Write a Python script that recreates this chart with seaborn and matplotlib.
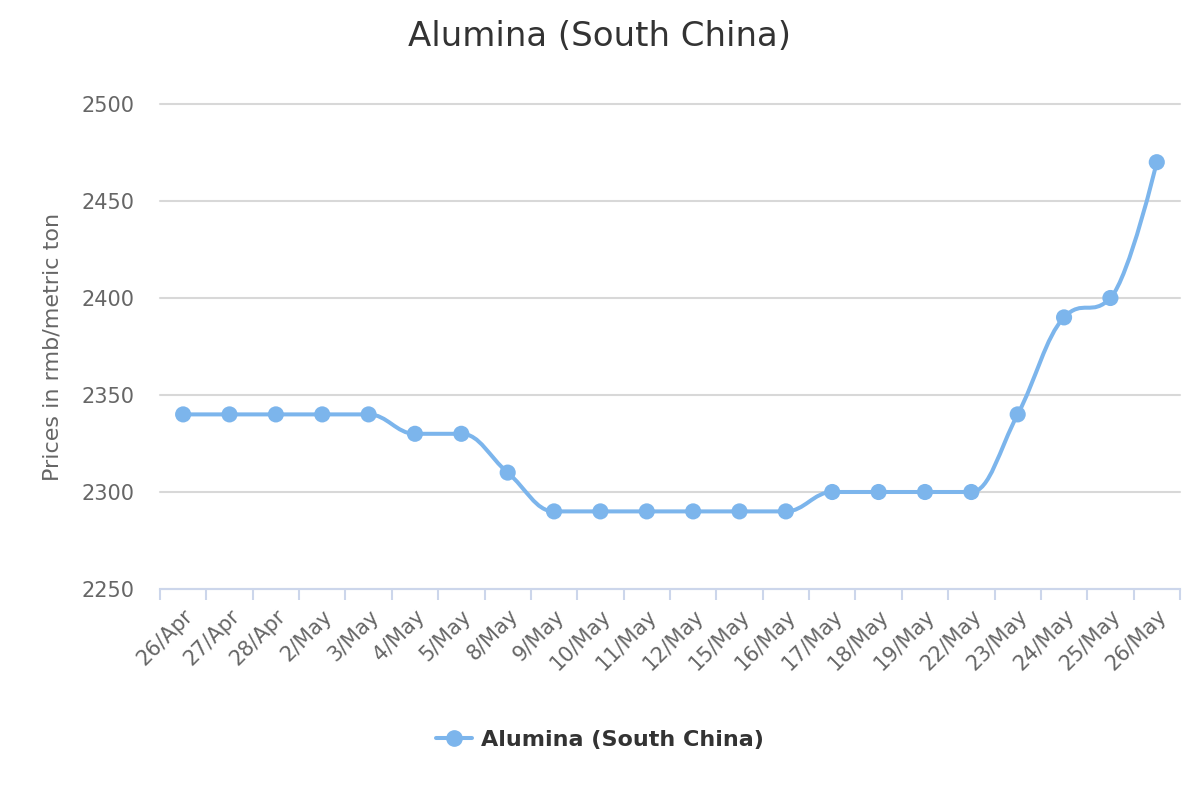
import numpy as np
import matplotlib
matplotlib.use("Agg")
import matplotlib.pyplot as plt
from matplotlib.path import Path
from matplotlib.patches import PathPatch
from matplotlib.lines import Line2D
import seaborn as sns

# Data
dates = ["26/Apr", "27/Apr", "28/Apr", "2/May", "3/May", "4/May", "5/May",
         "8/May", "9/May", "10/May", "11/May", "12/May", "15/May", "16/May",
         "17/May", "18/May", "19/May", "22/May", "23/May", "24/May", "25/May",
         "26/May"]
prices = [2340, 2340, 2340, 2340, 2340, 2330, 2330, 2310, 2290, 2290, 2290,
          2290, 2290, 2290, 2300, 2300, 2300, 2300, 2340, 2390, 2400, 2470]
y_ticks = [2250, 2300, 2350, 2400, 2450, 2500]
series_name = "Alumina (South China)"

COLOR = "#7cb5ec"

sns.set_theme(style="white")
plt.rcParams["font.family"] = ["DejaVu Sans"]


def spline_path(xs, ys, smoothing=1.5):
    """Highcharts-style spline as a cubic bezier path."""
    denom = smoothing + 1
    n = len(xs)
    right = [None] * n
    verts = [(xs[0], ys[0])]
    codes = [Path.MOVETO]
    for i in range(1, n):
        x, y = xs[i], ys[i]
        lx, ly = xs[i - 1], ys[i - 1]
        lcx, lcy = x, y
        if i < n - 1:
            nx, ny = xs[i + 1], ys[i + 1]
            lcx = (smoothing * x + lx) / denom
            lcy = (smoothing * y + ly) / denom
            rcx = (smoothing * x + nx) / denom
            rcy = (smoothing * y + ny) / denom
            corr = 0
            if rcx != lcx:
                corr = (rcy - lcy) * (rcx - x) / (rcx - lcx) + y - rcy
            lcy += corr
            rcy += corr
            if lcy > ly and lcy > y:
                lcy = max(ly, y)
                rcy = 2 * y - lcy
            elif lcy < ly and lcy < y:
                lcy = min(ly, y)
                rcy = 2 * y - lcy
            if rcy > ny and rcy > y:
                rcy = max(ny, y)
                lcy = 2 * y - rcy
            elif rcy < ny and rcy < y:
                rcy = min(ny, y)
                lcy = 2 * y - rcy
            right[i] = (rcx, rcy)
        prev_ctrl = right[i - 1] if right[i - 1] is not None else (lx, ly)
        verts += [prev_ctrl, (lcx, lcy), (x, y)]
        codes += [Path.CURVE4] * 3
    return Path(verts, codes)


fig = plt.figure(figsize=(12, 8), dpi=100)
ax = fig.add_axes([0.1333, 0.26375, 0.85, 0.60625])

xpos = np.arange(len(dates))
ax.add_patch(PathPatch(spline_path(xpos, prices), facecolor="none",
                       edgecolor=COLOR, lw=2.9, capstyle="round",
                       joinstyle="round", zorder=3))
sns.scatterplot(x=xpos, y=prices, ax=ax, color=COLOR, s=135,
                edgecolor="none", zorder=4, legend=False)

ax.set_xlim(-0.5, len(dates) - 0.5)
ax.set_ylim(2250, 2500)
ax.set_yticks(y_ticks)
ax.set_yticklabels([str(v) for v in y_ticks], color="#666666", fontsize=15)
ax.tick_params(axis="y", length=0, pad=18)
ax.grid(axis="y", color="#d8d8d8", lw=1.5)
ax.grid(axis="x", visible=False)
for gl in ax.get_ygridlines():
    gl.set_clip_on(False)

ax.set_xticks(xpos)
ax.set_xticklabels(dates, rotation=45, ha="right", va="top",
                   rotation_mode="anchor", color="#666666", fontsize=15)
ax.set_xticks(np.arange(-0.5, len(dates)), minor=True)
ax.tick_params(axis="x", which="major", length=0, pad=12)
ax.tick_params(axis="x", which="minor", length=8, width=1.5,
               color="#ccd6eb", direction="out", bottom=True)

for side in ["top", "right", "left"]:
    ax.spines[side].set_visible(False)
ax.spines["bottom"].set_color("#ccd6eb")
ax.spines["bottom"].set_linewidth(1.5)
ax.spines["bottom"].set_zorder(5)

ax.set_ylabel("Prices in rmb/metric ton", color="#666666", fontsize=16,
              labelpad=14)
fig.text(0.5, 0.955, series_name, ha="center", va="center",
         fontsize=24.5, color="#333333")

handle = Line2D([], [], color=COLOR, lw=2.9, marker="o", markersize=11)
fig.legend([handle], [series_name], loc="center", bbox_to_anchor=(0.5, 0.075),
           frameon=False, handlelength=1.6, handletextpad=0.4,
           prop={"weight": "bold", "size": 16}, labelcolor="#333333")

fig.savefig("out.png", dpi=100)
